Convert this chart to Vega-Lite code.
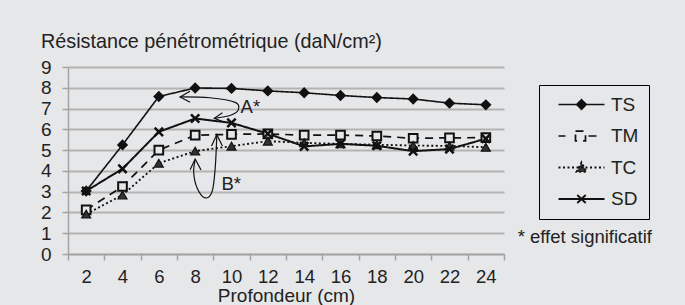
{
  "$schema": "https://vega.github.io/schema/vega-lite/v6.json",
  "width": 436,
  "height": 187,
  "autosize": "none",
  "padding": {"left": 68, "top": 67, "right": 181, "bottom": 51},
  "background": "#e6e7e9",
  "title": {
    "text": "Résistance pénétrométrique (daN/cm²)",
    "anchor": "start",
    "frame": "group",
    "dx": -27,
    "offset": -10,
    "baseline": "alphabetic",
    "font": "Liberation Sans",
    "fontSize": 19.8,
    "fontWeight": "normal",
    "color": "#222222"
  },
  "config": {
    "view": {"stroke": null},
    "font": "Liberation Sans"
  },
  "datasets": {
    "series": [
      {"x": 2, "y": 3.03, "s": "TS"}, {"x": 4, "y": 5.25, "s": "TS"}, {"x": 6, "y": 7.58, "s": "TS"},
      {"x": 8, "y": 7.99, "s": "TS"}, {"x": 10, "y": 7.97, "s": "TS"}, {"x": 12, "y": 7.85, "s": "TS"},
      {"x": 14, "y": 7.76, "s": "TS"}, {"x": 16, "y": 7.63, "s": "TS"}, {"x": 18, "y": 7.53, "s": "TS"},
      {"x": 20, "y": 7.46, "s": "TS"}, {"x": 22, "y": 7.26, "s": "TS"}, {"x": 24, "y": 7.18, "s": "TS"},
      {"x": 2, "y": 2.12, "s": "TM"}, {"x": 4, "y": 3.25, "s": "TM"}, {"x": 6, "y": 5.0, "s": "TM"},
      {"x": 8, "y": 5.72, "s": "TM"}, {"x": 10, "y": 5.76, "s": "TM"}, {"x": 12, "y": 5.78, "s": "TM"},
      {"x": 14, "y": 5.72, "s": "TM"}, {"x": 16, "y": 5.72, "s": "TM"}, {"x": 18, "y": 5.68, "s": "TM"},
      {"x": 20, "y": 5.57, "s": "TM"}, {"x": 22, "y": 5.59, "s": "TM"}, {"x": 24, "y": 5.6, "s": "TM"},
      {"x": 2, "y": 1.92, "s": "TC"}, {"x": 4, "y": 2.84, "s": "TC"}, {"x": 6, "y": 4.37, "s": "TC"},
      {"x": 8, "y": 4.95, "s": "TC"}, {"x": 10, "y": 5.19, "s": "TC"}, {"x": 12, "y": 5.43, "s": "TC"},
      {"x": 14, "y": 5.35, "s": "TC"}, {"x": 16, "y": 5.3, "s": "TC"}, {"x": 18, "y": 5.26, "s": "TC"},
      {"x": 20, "y": 5.22, "s": "TC"}, {"x": 22, "y": 5.2, "s": "TC"}, {"x": 24, "y": 5.14, "s": "TC"},
      {"x": 2, "y": 3.03, "s": "SD"}, {"x": 4, "y": 4.1, "s": "SD"}, {"x": 6, "y": 5.88, "s": "SD"},
      {"x": 8, "y": 6.52, "s": "SD"}, {"x": 10, "y": 6.31, "s": "SD"}, {"x": 12, "y": 5.79, "s": "SD"},
      {"x": 14, "y": 5.18, "s": "SD"}, {"x": 16, "y": 5.3, "s": "SD"}, {"x": 18, "y": 5.21, "s": "SD"},
      {"x": 20, "y": 4.95, "s": "SD"}, {"x": 22, "y": 5.05, "s": "SD"}, {"x": 24, "y": 5.55, "s": "SD"}
    ],
    "curves": [
      {"g": "A", "o": 1, "x": 7.17, "y": 7.56},
      {"g": "A", "o": 2, "x": 8.8, "y": 7.52},
      {"g": "A", "o": 3, "x": 10.2, "y": 7.3},
      {"g": "A", "o": 4, "x": 10.38, "y": 6.95},
      {"g": "A", "o": 5, "x": 9.95, "y": 6.68},
      {"g": "A", "o": 6, "x": 9.05, "y": 6.53},
      {"g": "B", "o": 1, "x": 8.0, "y": 4.55},
      {"g": "B", "o": 2, "x": 7.92, "y": 3.9},
      {"g": "B", "o": 3, "x": 8.12, "y": 3.15},
      {"g": "B", "o": 4, "x": 8.55, "y": 2.7},
      {"g": "B", "o": 5, "x": 8.93, "y": 3.0},
      {"g": "B", "o": 6, "x": 9.1, "y": 4.1},
      {"g": "B", "o": 7, "x": 9.19, "y": 5.72}
    ],
    "heads": [
      {"g": "A1", "o": 1, "x": 7.72, "y": 7.83},
      {"g": "A1", "o": 2, "x": 7.17, "y": 7.56},
      {"g": "A1", "o": 3, "x": 7.72, "y": 7.3},
      {"g": "A2", "o": 1, "x": 9.5, "y": 6.8},
      {"g": "A2", "o": 2, "x": 9.05, "y": 6.53},
      {"g": "A2", "o": 3, "x": 9.58, "y": 6.35},
      {"g": "B1", "o": 1, "x": 7.72, "y": 4.05},
      {"g": "B1", "o": 2, "x": 8.0, "y": 4.57},
      {"g": "B1", "o": 3, "x": 8.32, "y": 4.05},
      {"g": "B2", "o": 1, "x": 8.9, "y": 5.2},
      {"g": "B2", "o": 2, "x": 9.19, "y": 5.74},
      {"g": "B2", "o": 3, "x": 9.5, "y": 5.2}
    ],
    "notes": [
      {"x": 10.5, "y": 6.78, "t": "A*"},
      {"x": 9.45, "y": 3.1, "t": "B*"},
      {"x": 25.75, "y": 0.52, "t": "* effet significatif"}
    ]
  },
  "encoding": {
    "x": {
      "field": "x",
      "type": "quantitative",
      "scale": {"domain": [1, 25], "nice": false, "zero": false},
      "axis": {
        "values": [1, 2, 3, 4, 5, 6, 7, 8, 9, 10, 11, 12, 13, 14, 15, 16, 17, 18, 19, 20, 21, 22, 23, 24, 25],
        "labelExpr": "datum.value % 2 == 0 ? datum.label : ''",
        "tickOpacity": {"condition": {"test": "datum.value % 2 == 0", "value": 0}, "value": 1},
        "grid": false,
        "domainColor": "#a3a3a3",
        "domainWidth": 1.5,
        "tickColor": "#a3a3a3",
        "tickWidth": 1.5,
        "tickSize": 6,
        "labelFont": "Liberation Sans",
        "labelFontSize": 18.5,
        "labelColor": "#222222",
        "labelPadding": 7,
        "labelFlush": false,
        "labelOverlap": false,
        "title": "Profondeur (cm)",
        "titleFont": "Liberation Sans",
        "titleFontSize": 19,
        "titleFontWeight": "normal",
        "titleColor": "#222222",
        "titlePadding": 1
      }
    },
    "y": {
      "field": "y",
      "type": "quantitative",
      "scale": {"domain": [0, 9], "nice": false},
      "axis": {
        "values": [0, 1, 2, 3, 4, 5, 6, 7, 8, 9],
        "grid": true,
        "gridColor": "#b3b3b3",
        "gridWidth": 2,
        "domainColor": "#a3a3a3",
        "domainWidth": 1.5,
        "tickColor": "#a3a3a3",
        "tickWidth": 1.5,
        "tickSize": 6,
        "labelFont": "Liberation Sans",
        "labelFontSize": 19,
        "labelColor": "#222222",
        "labelPadding": 11,
        "title": null
      }
    }
  },
  "layer": [
    {
      "data": {"name": "series"},
      "mark": {"type": "line", "color": "#111111"},
      "encoding": {
        "strokeDash": {
          "field": "s",
          "type": "nominal",
          "scale": {"domain": ["TS", "TM", "TC", "SD"], "range": [[1, 0], [8, 6], [2, 2.5], [1, 0]]},
          "legend": {
            "title": null,
            "orient": "none",
            "legendX": 471,
            "legendY": 18,
            "strokeColor": "#000000",
            "padding": 10,
            "rowPadding": 11.5,
            "symbolSize": 256,
            "symbolStrokeWidth": 1.8,
            "symbolStrokeColor": "#111111",
            "labelFont": "Liberation Sans",
            "labelFontSize": 19,
            "labelColor": "#222222",
            "labelOffset": 43,
            "encode": {
              "symbols": {
                "update": {
                  "shape": {"signal": "datum.value === 'TS' ? 'M0,0H5.75M2.275,0L2.875,-0.6L3.475,0L2.875,0.6Z' : datum.value === 'TM' ? 'M0,0H0.875M2.125,-0.6H3.375V0.6H2.125ZM3.75,0H4.875' : datum.value === 'TC' ? 'M0,0H5.75M2.25,0.55L2.875,-0.65L3.5,0.55Z' : 'M0,0H5.75M2.35,-0.5L3.4,0.5M2.35,0.5L3.4,-0.5'"},
                  "fill": {"signal": "datum.value === 'TS' ? '#111111' : datum.value === 'TC' ? '#333333' : 'transparent'"},
                  "strokeDash": {"signal": "datum.value === 'TC' ? [2, 2] : [1, 0]"},
                  "stroke": {"value": "#111111"}
                }
              }
            }
          }
        },
        "strokeWidth": {
          "field": "s",
          "type": "nominal",
          "scale": {"domain": ["TS", "TM", "TC", "SD"], "range": [1.6, 2, 2.4, 1.6]},
          "legend": null
        }
      }
    },
    {
      "data": {"name": "series"},
      "transform": [{"filter": "datum.s === 'TS'"}],
      "mark": {"type": "point", "shape": "diamond", "filled": true, "fill": "#111111", "stroke": "#111111", "strokeWidth": 1.5, "opacity": 1, "size": 85}
    },
    {
      "data": {"name": "series"},
      "transform": [{"filter": "datum.s === 'TM'"}],
      "mark": {"type": "point", "shape": "square", "filled": true, "fill": "#e6e7e9", "stroke": "#111111", "strokeWidth": 2, "opacity": 1, "size": 75}
    },
    {
      "data": {"name": "series"},
      "transform": [{"filter": "datum.s === 'TC'"}],
      "mark": {"type": "point", "shape": "triangle-up", "filled": true, "fill": "#333333", "stroke": "#111111", "strokeWidth": 1.2, "opacity": 1, "size": 80}
    },
    {
      "data": {"name": "series"},
      "transform": [{"filter": "datum.s === 'SD'"}],
      "mark": {"type": "point", "shape": "M-1,-1L1,1M-1,1L1,-1", "filled": false, "stroke": "#111111", "strokeWidth": 2.5, "opacity": 1, "size": 70}
    },
    {
      "data": {"name": "curves"},
      "mark": {"type": "line", "interpolate": "cardinal", "color": "#111111", "strokeWidth": 1.2},
      "encoding": {
        "detail": {"field": "g", "type": "nominal"},
        "order": {"field": "o", "type": "quantitative"}
      }
    },
    {
      "data": {"name": "heads"},
      "mark": {"type": "line", "color": "#111111", "strokeWidth": 1.2},
      "encoding": {
        "detail": {"field": "g", "type": "nominal"},
        "order": {"field": "o", "type": "quantitative"}
      }
    },
    {
      "data": {"name": "notes"},
      "mark": {"type": "text", "align": "left", "baseline": "alphabetic", "font": "Liberation Sans", "fontSize": 18.5, "color": "#222222"},
      "encoding": {
        "text": {"field": "t", "type": "nominal"}
      }
    }
  ]
}
